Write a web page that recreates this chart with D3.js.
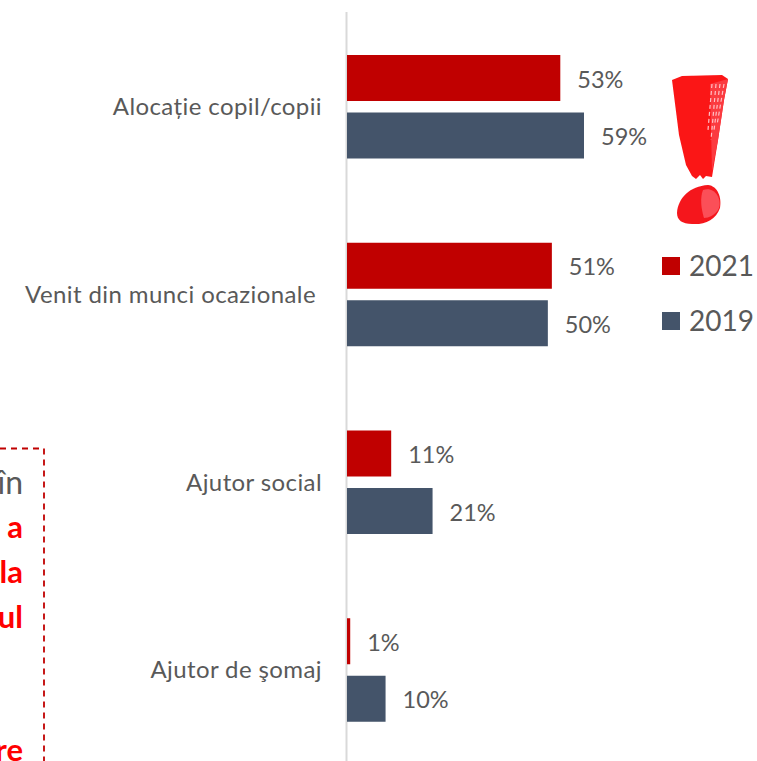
<!DOCTYPE html>
<html><head><meta charset="utf-8">
<script src="https://cdn.jsdelivr.net/npm/d3@7/dist/d3.min.js"></script>
<style>html,body{margin:0;padding:0;background:#fff}svg{display:block}</style></head>
<body><svg id="c" width="757" height="761"></svg>
<script>
const categories=["Alocație copil/copii","Venit din munci ocazionale","Ajutor social","Ajutor de şomaj"];
const series2021=[53.1,51,11,0.8];
const series2019=[59,50,21.3,9.6];
const legendLabels=["2021","2019"];
const noteFragments=[["în","#595959",400],["a","#ff0000",700],["la","#ff0000",700],["ul","#ff0000",700],["re","#ff0000",700]];
const svg=d3.select("#c");
const font="Lato,'Open Sans',sans-serif";
const colors=["#c00000","#44546a"];
const x=d3.scaleLinear().domain([0,59]).range([347,584]);
const y=d3.scaleBand().domain(categories).range([55,806]);
const labelRight=[322,316,322,322];
svg.append("line").attr("x1",346.5).attr("x2",346.5).attr("y1",12).attr("y2",761).attr("stroke","#d9d9d9").attr("stroke-width",2);
categories.forEach((c,i)=>{
  const top=y(c);
  [[series2021[i],0],[series2019[i],1]].forEach(([v,s])=>{
    const ty=top+s*57.5;
    svg.append("rect").attr("x",x(0)).attr("y",ty).attr("width",x(v)-x(0)).attr("height",46).attr("fill",colors[s]);
    svg.append("text").attr("x",x(v)+17).attr("y",ty+32.5).attr("font-family",font).attr("font-size",23.5).attr("fill","#595959").text(Math.round(v)+"%");
  });
  svg.append("text").attr("x",labelRight[i]).attr("y",top+60).attr("text-anchor","end").attr("font-family",font).attr("font-size",24).attr("letter-spacing",0.4).attr("fill","#595959").text(c);
});
// legend
legendLabels.forEach((l,i)=>{
  const ly=257+i*55;
  svg.append("rect").attr("x",662).attr("y",ly).attr("width",18).attr("height",18).attr("fill",colors[i]);
  svg.append("text").attr("x",689).attr("y",ly+19).attr("font-family",font).attr("font-size",28).attr("fill","#595959").text(l);
});
// dashed note box, cropped by the page edge
svg.append("path").attr("d","M0 448.5H44V761").attr("fill","none").attr("stroke","#c00000").attr("stroke-width",1.8).attr("stroke-dasharray","6 5");
const noteY=[494,538,583,628,761];
noteFragments.forEach(([t,col,w],i)=>{
  svg.append("text").attr("x",23).attr("y",noteY[i]).attr("text-anchor","end").attr("font-family",font).attr("font-size",i==0?32:31).attr("font-weight",w).attr("fill",col).text(t);
});
// exclamation mark
const defs=svg.append("defs");
defs.append("filter").attr("id","soft").append("feGaussianBlur").attr("stdDeviation",0.7);
const mark=svg.append("g").attr("filter","url(#soft)");
mark.append("path").attr("d","M672 80L682 76L722 75L728 79L724 100L718 140L712 177L706 176L703 179L700 175L696 179L692 176L686 165L679 135Z").attr("fill","#fb1519");
mark.append("path").attr("d","M710 84L728 79L724 100L718 140L712 172Z").attr("fill","#fb3a40");
[[712,84,708,130],[716,84,711,140],[720,84,714,130],[724,84,717,125]].forEach(([a,b,c,d])=>{
  mark.append("line").attr("x1",a).attr("y1",b).attr("x2",c).attr("y2",d).attr("stroke","#ffc0c4").attr("stroke-width",1.2).attr("stroke-dasharray","4 3");
});
mark.append("path").attr("d","M677 213C678 198 690 186 708 185C718 186 722 198 720 208C716 220 704 225 692 224C682 224 677 220 677 213Z").attr("fill","#f5181f");
mark.append("path").attr("d","M703 190C714 186 722 198 719 208C716 215 708 218 704 218C701 208 700 198 703 190Z").attr("fill","#fb5058");
</script></body></html>
